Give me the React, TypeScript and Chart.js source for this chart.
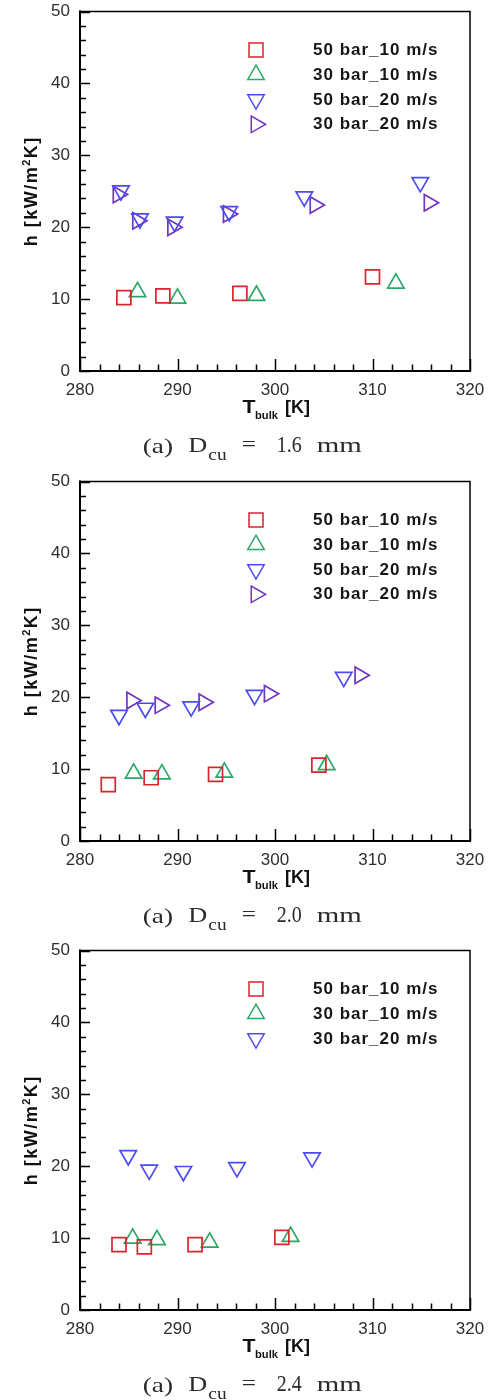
import React, { useEffect, useRef } from 'react';
import { Chart, registerables } from 'chart.js';
import { drawPoint } from 'chart.js/helpers';

Chart.register(...registerables);

// Axis ranges and tick steps
const X_MIN = 280;
const X_MAX = 320;
const X_MAJOR = 10;
const X_MINOR = 2;
const Y_MIN = 0;
const Y_MAX = 50;
const Y_MAJOR = 10;
const Y_MINOR = 2;

// Series names
const LBL_50_10 = '50 bar_10 m/s';
const LBL_30_10 = '30 bar_10 m/s';
const LBL_50_20 = '50 bar_20 m/s';
const LBL_30_20 = '30 bar_20 m/s';

// D_cu = 1.6 mm : bulk temperature [K] / heat transfer coefficient [kW/m2K]
const d16_50_10_T = [284.5, 288.5, 296.4, 310.0];
const d16_50_10_h = [10.2, 10.45, 10.8, 13.1];
const d16_30_10_T = [285.9, 290.0, 298.1, 312.4];
const d16_30_10_h = [11.0, 10.1, 10.5, 12.2];
const d16_50_20_T = [284.2, 286.15, 289.7, 295.3, 303.0, 314.9];
const d16_50_20_h = [25.1, 21.2, 20.75, 22.2, 24.25, 26.25];
const d16_30_20_T = [283.9, 285.9, 289.5, 295.2, 304.1, 315.8];
const d16_30_20_h = [24.55, 20.9, 20.0, 21.85, 23.1, 23.4];

// D_cu = 2.0 mm
const d20_50_10_T = [282.9, 287.3, 293.9, 304.5];
const d20_50_10_h = [7.85, 8.8, 9.27, 10.55];
const d20_30_10_T = [285.5, 288.4, 294.8, 305.3];
const d20_30_10_h = [9.4, 9.3, 9.55, 10.6];
const d20_50_20_T = [284.0, 286.7, 291.4, 297.9, 307.05];
const d20_50_20_h = [17.5, 18.5, 18.7, 20.3, 22.8];
const d20_30_20_T = [285.3, 288.2, 292.7, 299.4, 308.7];
const d20_30_20_h = [19.55, 18.9, 19.3, 20.5, 23.05];

// D_cu = 2.4 mm
const d24_50_10_T = [284.0, 286.6, 291.8, 300.7];
const d24_50_10_h = [9.1, 8.77, 9.1, 10.1];
const d24_30_10_T = [285.4, 287.9, 293.3, 301.6];
const d24_30_10_h = [9.97, 9.75, 9.4, 10.2];
const d24_30_20_T = [284.95, 287.1, 290.6, 296.1, 303.8];
const d24_30_20_h = [21.5, 19.5, 19.3, 19.85, 21.2];

// Panel captions (copper diameter)
const DIAMETERS = ['1.6', '2.0', '2.4'];

const RED = '#d8262c';
const GREEN = '#2aa866';
const BLUE = '#4b4bf2';
const PURPLE = '#7035c2';

const SANS = '"Liberation Sans", Arial, sans-serif';
const SERIF = '"Liberation Serif", "Times New Roman", serif';

const W = 492;
const H = 463;
const PLOT_TOP = 5;
const PLOT_H = 366;
const PLOT_LEFT = 80;
const PLOT_RIGHT_PAD = 22;

type Marker = 'square' | 'up' | 'down' | 'right';

const markerStyle: Record<Marker, { pointStyle: string; rotation: number; radius: number }> = {
  square: { pointStyle: 'rect', rotation: 0, radius: 9.9 },
  up: { pointStyle: 'triangle', rotation: 0, radius: 9.5 },
  down: { pointStyle: 'triangle', rotation: 180, radius: 9.5 },
  right: { pointStyle: 'triangle', rotation: 90, radius: 9.5 },
};

function series(label: string, T: number[], h: number[], marker: Marker, color: string) {
  const m = markerStyle[marker];
  return {
    label,
    data: T.map((t, i) => ({ x: t, y: h[i] })),
    pointStyle: m.pointStyle,
    pointRotation: m.rotation,
    pointRadius: m.radius,
    pointHoverRadius: m.radius,
    pointBorderWidth: 1.7,
    borderColor: color,
    pointBorderColor: color,
    backgroundColor: 'rgba(0,0,0,0)',
    pointBackgroundColor: 'rgba(0,0,0,0)',
    showLine: false,
  };
}

const PANELS = [
  {
    top: 0,
    diam: DIAMETERS[0],
    datasets: [
      series(LBL_50_10, d16_50_10_T, d16_50_10_h, 'square', RED),
      series(LBL_30_10, d16_30_10_T, d16_30_10_h, 'up', GREEN),
      series(LBL_50_20, d16_50_20_T, d16_50_20_h, 'down', BLUE),
      series(LBL_30_20, d16_30_20_T, d16_30_20_h, 'right', PURPLE),
    ],
  },
  {
    top: 470,
    diam: DIAMETERS[1],
    datasets: [
      series(LBL_50_10, d20_50_10_T, d20_50_10_h, 'square', RED),
      series(LBL_30_10, d20_30_10_T, d20_30_10_h, 'up', GREEN),
      series(LBL_50_20, d20_50_20_T, d20_50_20_h, 'down', BLUE),
      series(LBL_30_20, d20_30_20_T, d20_30_20_h, 'right', PURPLE),
    ],
  },
  {
    top: 939,
    diam: DIAMETERS[2],
    datasets: [
      series(LBL_50_10, d24_50_10_T, d24_50_10_h, 'square', RED),
      series(LBL_30_10, d24_30_10_T, d24_30_10_h, 'up', GREEN),
      series(LBL_30_20, d24_30_20_T, d24_30_20_h, 'down', BLUE),
    ],
  },
];

// draws text horizontally stretched to a given width, left edge at x
function fitText(ctx: CanvasRenderingContext2D, text: string, x: number, y: number, width: number) {
  const natural = ctx.measureText(text).width;
  ctx.save();
  ctx.translate(x, y);
  ctx.scale(width / natural, 1);
  ctx.fillText(text, 0, 0);
  ctx.restore();
}

function decorPlugin(diam: string) {
  return {
    id: 'panelDecor',
    afterDraw(chart: any) {
      const { ctx, chartArea: a, scales } = chart;
      const xs = scales.x;
      const ys = scales.y;
      ctx.save();

      // plot frame
      ctx.strokeStyle = '#000';
      ctx.lineCap = 'square';
      ctx.lineWidth = 1.5;
      ctx.beginPath();
      ctx.moveTo(a.left, a.top);
      ctx.lineTo(a.right, a.top);
      ctx.lineTo(a.right, a.bottom);
      ctx.stroke();
      ctx.lineWidth = 2;
      ctx.beginPath();
      ctx.moveTo(a.left, a.top);
      ctx.lineTo(a.left, a.bottom);
      ctx.lineTo(a.right, a.bottom);
      ctx.stroke();

      // inward tick marks
      ctx.lineWidth = 1.5;
      ctx.lineCap = 'butt';
      ctx.beginPath();
      for (let v = X_MIN; v <= X_MAX; v += X_MINOR) {
        const px = Math.round(xs.getPixelForValue(v)) + 0.5;
        const len = v % X_MAJOR === 0 ? 12 : 6.5;
        ctx.moveTo(px, a.bottom);
        ctx.lineTo(px, a.bottom - len);
      }
      for (let v = Y_MIN; v <= Y_MAX; v += Y_MINOR) {
        const py = Math.round(ys.getPixelForValue(v)) + 0.5;
        const len = v % Y_MAJOR === 0 ? 10 : 6;
        ctx.moveTo(a.left, py);
        ctx.lineTo(a.left + len, py);
      }
      ctx.stroke();

      // legend
      chart.data.datasets.forEach((ds: any, i: number) => {
        const cy = a.top + 38.3 + 24.8 * i;
        ctx.strokeStyle = ds.pointBorderColor;
        ctx.fillStyle = 'rgba(0,0,0,0)';
        drawPoint(
          ctx,
          {
            pointStyle: ds.pointStyle,
            rotation: ds.pointRotation,
            radius: ds.pointRadius,
            borderWidth: 1.7,
          } as any,
          256,
          cy
        );
        ctx.fillStyle = '#161616';
        ctx.font = `bold 17px ${SANS}`;
        (ctx as any).letterSpacing = '1px';
        ctx.textAlign = 'left';
        ctx.textBaseline = 'middle';
        ctx.fillText(ds.label, 313, cy + 0.5);
        (ctx as any).letterSpacing = '0px';
      });

      // x axis title: T_bulk [K]
      const cx = (a.left + a.right) / 2;
      ctx.fillStyle = '#111';
      ctx.textBaseline = 'alphabetic';
      ctx.textAlign = 'left';
      const xb = a.bottom + 42;
      ctx.font = `bold 19px ${SANS}`;
      fitText(ctx, 'T', cx - 32.5, xb, 13);
      ctx.font = `bold 11px ${SANS}`;
      fitText(ctx, 'bulk', cx - 20, xb + 6, 23);
      ctx.font = `bold 18px ${SANS}`;
      fitText(ctx, '[K]', cx + 10, xb, 25);

      // y axis title: h [kW/m²K]
      const cyMid = (a.top + a.bottom) / 2;
      ctx.save();
      ctx.translate(37, cyMid);
      ctx.rotate(-Math.PI / 2);
      ctx.font = `bold 18px ${SANS}`;
      (ctx as any).letterSpacing = '1.5px';
      const p1 = 'h [kW/m';
      const p3 = 'K]';
      const w1 = ctx.measureText(p1).width;
      const w3 = ctx.measureText(p3).width;
      ctx.font = `bold 11px ${SANS}`;
      const w2 = ctx.measureText('2').width;
      const total = w1 + w2 + w3;
      let tx = -total / 2;
      ctx.font = `bold 18px ${SANS}`;
      ctx.fillText(p1, tx, 0);
      tx += w1;
      ctx.font = `bold 11px ${SANS}`;
      ctx.fillText('2', tx, -7);
      tx += w2;
      ctx.font = `bold 18px ${SANS}`;
      ctx.fillText(p3, tx, 0);
      (ctx as any).letterSpacing = '0px';
      ctx.restore();

      // caption: (a)  D_cu = d mm
      const cb = a.bottom + 81;
      ctx.fillStyle = '#2a2a2a';
      ctx.font = `22px ${SERIF}`;
      fitText(ctx, '(a)', 142.7, cb + 1, 30.3);
      fitText(ctx, 'D', 188.3, cb, 19);
      ctx.font = `17px ${SERIF}`;
      fitText(ctx, 'cu', 208.3, cb + 8, 18.3);
      ctx.font = `22px ${SERIF}`;
      fitText(ctx, '=', 241.7, cb - 1, 14.3);
      ctx.font = `23px ${SERIF}`;
      fitText(ctx, diam, 276.7, cb, 25);
      ctx.font = `22px ${SERIF}`;
      fitText(ctx, 'mm', 316.7, cb, 45);

      ctx.restore();
    },
  };
}

function Panel({ top, diam, datasets }: { top: number; diam: string; datasets: any[] }) {
  const ref = useRef<HTMLCanvasElement>(null);
  useEffect(() => {
    if (!ref.current) return;
    const chart = new Chart(ref.current, {
      type: 'scatter',
      data: { datasets },
      options: {
        responsive: false,
        animation: false,
        devicePixelRatio: 1,
        events: [],
        layout: { padding: { left: 0, right: PLOT_RIGHT_PAD, top: PLOT_TOP, bottom: 0 } },
        plugins: {
          legend: { display: false },
          tooltip: { enabled: false },
        },
        scales: {
          x: {
            type: 'linear',
            min: X_MIN,
            max: X_MAX,
            grid: { display: false, drawTicks: false },
            border: { display: false },
            ticks: {
              stepSize: X_MAJOR,
              padding: 9,
              color: '#2e2e2e',
              font: { family: SANS, size: 17 },
              maxRotation: 0,
            },
            afterFit: (s: any) => {
              s.height = H - PLOT_TOP - PLOT_H;
              s.paddingLeft = 0;
              s.paddingRight = 0;
            },
          },
          y: {
            type: 'linear',
            min: Y_MIN,
            max: Y_MAX,
            grid: { display: false, drawTicks: false },
            border: { display: false },
            ticks: {
              stepSize: Y_MAJOR,
              padding: 10,
              color: '#2e2e2e',
              font: { family: SANS, size: 17 },
            },
            afterFit: (s: any) => {
              s.width = PLOT_LEFT;
              s.paddingTop = 0;
              s.paddingBottom = 0;
            },
          },
        },
      } as any,
      plugins: [decorPlugin(diam)],
    });
    return () => chart.destroy();
  }, []);
  return (
    <canvas
      ref={ref}
      width={W}
      height={H}
      style={{ position: 'absolute', left: 0, top, display: 'block' }}
    />
  );
}

export default function App() {
  return (
    <div
      style={{
        position: 'absolute',
        left: 0,
        top: 0,
        width: W,
        height: 1400,
        background: '#fff',
        overflow: 'hidden',
      }}
    >
      {PANELS.map((p, i) => (
        <Panel key={i} top={p.top} diam={p.diam} datasets={p.datasets} />
      ))}
    </div>
  );
}
